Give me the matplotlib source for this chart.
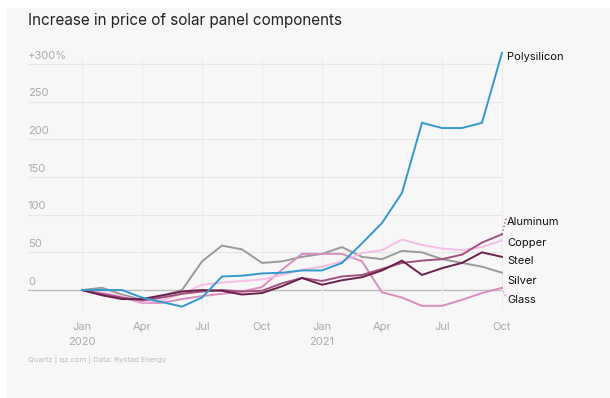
import matplotlib
matplotlib.use('Agg')
import matplotlib.pyplot as plt
import matplotlib.transforms as mtransforms
from matplotlib.patches import Rectangle

plt.rcParams['font.family'] = ['Inter', 'DejaVu Sans']

# monthly index, Jan 2020 .. Oct 2021
months = list(range(22))
tick_pos = [0, 3, 6, 9, 12, 15, 18, 21]
tick_labels = ['Jan\n2020', 'Apr', 'Jul', 'Oct', 'Jan\n2021', 'Apr', 'Jul', 'Oct']
y_ticks = [0, 50, 100, 150, 200, 250, 300]
y_labels = ['0', '50', '100', '150', '200', '250', '+300%']

polysilicon = [0, 0, 0, -10, -16, -22, -10, 18, 19, 22, 23, 26, 26, 36, 62, 89, 129, 222, 215, 215, 222, 315]
silver = [0, 3, -6, -13, -8, 0, 38, 59, 54, 36, 38, 44, 48, 57, 44, 41, 52, 50, 41, 36, 31, 23]
glass = [0, -6, -10, -17, -17, -12, -8, -5, -2, 4, 27, 48, 48, 48, 38, -3, -10, -21, -21, -13, -4, 3]
copper = [0, -3, -8, -16, -14, -5, 7, 10, 12, 14, 20, 27, 31, 38, 49, 53, 67, 60, 55, 53, 57, 66]
aluminum = [0, -5, -10, -14, -10, -5, -2, 0, -2, -1, 9, 16, 12, 18, 20, 28, 36, 39, 41, 47, 63, 74]
steel = [0, -7, -12, -12, -7, -2, 0, -1, -6, -4, 5, 16, 7, 13, 17, 26, 39, 20, 29, 36, 50, 44]

names = ['Silver', 'Glass', 'Copper', 'Aluminum', 'Steel', 'Polysilicon']
series = [silver, glass, copper, aluminum, steel, polysilicon]
colors = ['#9a9a9a', '#d98cbf', '#f6bde6', '#a3507f', '#6a1f4d', '#3399cc']
# where each name sits on the right (data units)
label_y = {'Polysilicon': 309, 'Aluminum': 90, 'Copper': 63, 'Steel': 39, 'Silver': 12, 'Glass': -13}

fig = plt.figure(figsize=(6.1, 3.98), dpi=100)
fig.patch.set_facecolor('white')
fig.patches.append(Rectangle((7 / 610, 0), 1, 1 - 8 / 398, transform=fig.transFigure,
                             facecolor='#f7f7f7', edgecolor='none', zorder=-10))

ax = fig.add_axes([28 / 610, 1 - 310 / 398, 475 / 610, 260 / 398])
ax.set_facecolor('none')
ax.set_xlim(-2.7, 21.05)
ax.set_ylim(-26.5, 318.6)

for spine in ax.spines.values():
    spine.set_visible(False)

# grid
for v in y_ticks[1:]:
    ax.axhline(v, color='#e6e6e6', linewidth=0.8, zorder=0)
ax.axhline(0, color='#bdbdbd', linewidth=1.0, zorder=0)
for t in tick_pos:
    ax.axvline(t, ymin=0, ymax=(307 - (-26.5)) / 345.1, color='#ececec', linewidth=0.8, zorder=0)

# y labels sit above their gridline
blend = mtransforms.blended_transform_factory(ax.transAxes, ax.transData)
for v, lab in zip(y_ticks, y_labels):
    ax.annotate(lab, xy=(0, v), xycoords=blend, xytext=(0, 2.5), textcoords='offset points',
                ha='left', va='bottom', fontsize=8, color='#aaaaaa')
ax.set_yticks([])

ax.set_xticks(tick_pos)
ax.set_xticklabels(tick_labels, fontsize=8, color='#aaaaaa', linespacing=1.55)
ax.tick_params(axis='x', length=0, pad=9)

for name, data, c in zip(names, series, colors):
    ax.plot(months, data, color=c, linewidth=1.4, solid_joinstyle='miter', zorder=3)
    ax.text(21.25, label_y[name], name, fontsize=8, color='#111111', va='center', ha='left')

# dotted leaders for labels that are far from their line end
ax.plot([21.0, 21.2], [aluminum[-1], label_y['Aluminum'] + 5], color=colors[3],
        linestyle=':', linewidth=1, clip_on=False)
ax.plot([21.0, 21.2], [glass[-1], label_y['Glass'] + 3], color=colors[1],
        linestyle=':', linewidth=1, clip_on=False)

fig.text(28 / 610, 1 - 20 / 398, 'Increase in price of solar panel components',
         fontsize=11, color='#222222', ha='left', va='center')
fig.text(28 / 610, 1 - 360 / 398, 'Quartz | qz.com | Data: Rystad Energy',
         fontsize=5.5, color='#bbbbbb', ha='left', va='center')

fig.savefig('out.png', dpi=100)
